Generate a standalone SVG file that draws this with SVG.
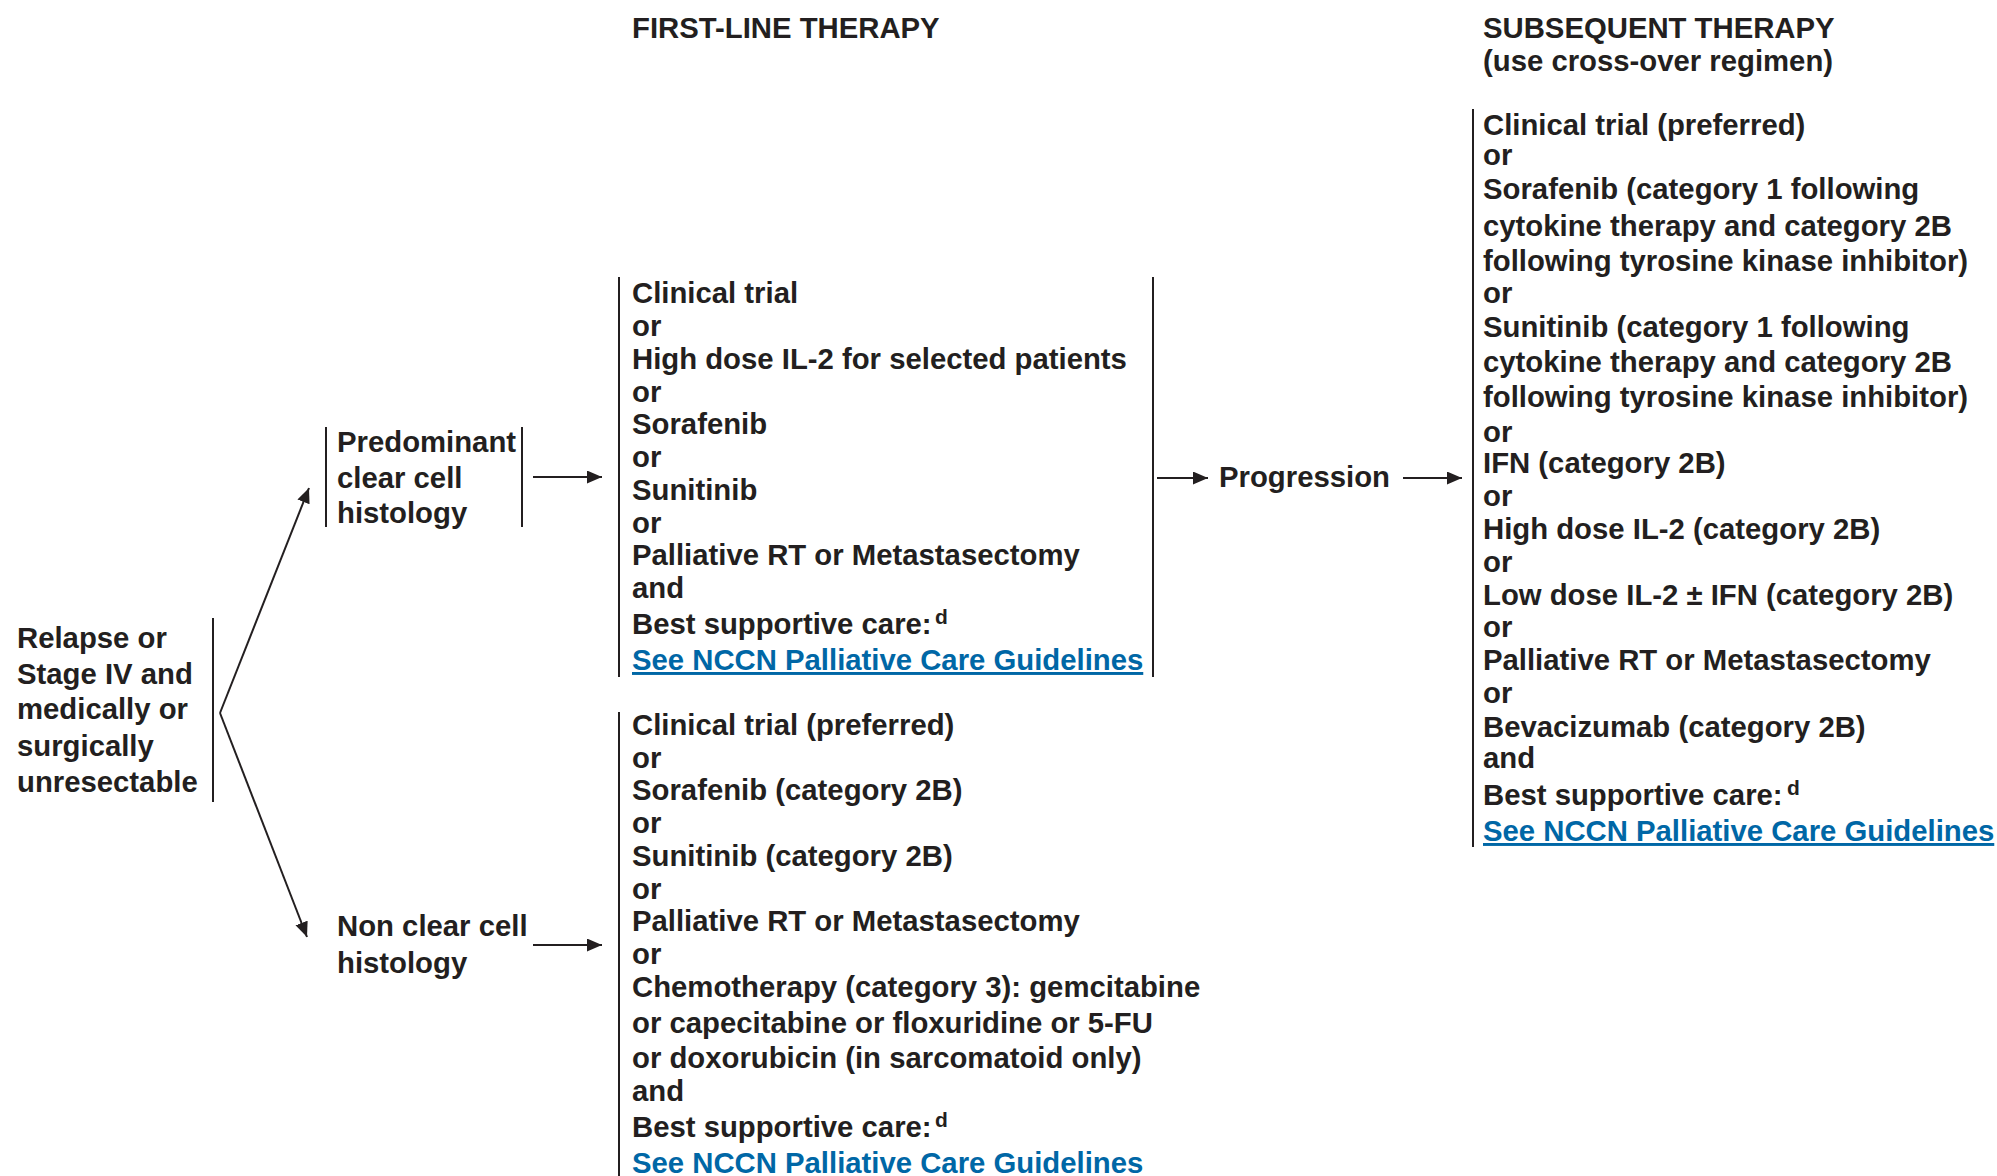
<svg xmlns="http://www.w3.org/2000/svg" width="1997" height="1176" viewBox="0 0 1997 1176">
<style>
.t{font-family:"Liberation Sans",Arial,Helvetica,sans-serif;font-weight:bold;font-size:29.3px;fill:#231f20}
.lk{fill:#0067a6}
.u{text-decoration:underline}
.sup{font-size:21px}
.ln{stroke:#231f20;stroke-width:2;fill:none}
.ar{stroke:#231f20;stroke-width:2;fill:none;marker-end:url(#ah)}
</style>
<defs>
<marker id="ah" markerUnits="userSpaceOnUse" markerWidth="16" markerHeight="14" refX="15" refY="6.5" orient="auto">
<path d="M0,0 L15,6.5 L0,13 Z" fill="#231f20"/>
</marker>
</defs>
<rect width="1997" height="1176" fill="#ffffff"/>

<g id="header-first-line">
<text class="t" x="632" y="38">FIRST-LINE THERAPY</text>
</g>
<g id="header-subsequent">
<text class="t" x="1483" y="38">SUBSEQUENT THERAPY</text>
<text class="t" x="1483" y="71">(use cross-over regimen)</text>
</g>

<g id="node-relapse">
<line class="ln" x1="213" y1="618" x2="213" y2="802"/>
<text class="t">
<tspan x="17" y="648">Relapse or</tspan>
<tspan x="17" y="684">Stage IV and</tspan>
<tspan x="17" y="719">medically or</tspan>
<tspan x="17" y="756">surgically</tspan>
<tspan x="17" y="792">unresectable</tspan>
</text>
</g>

<g id="node-clear-cell">
<line class="ln" x1="326" y1="427" x2="326" y2="527"/>
<line class="ln" x1="522" y1="427" x2="522" y2="527"/>
<text class="t">
<tspan x="337" y="452">Predominant</tspan>
<tspan x="337" y="488">clear cell</tspan>
<tspan x="337" y="523">histology</tspan>
</text>
</g>

<g id="node-non-clear-cell">
<text class="t">
<tspan x="337" y="936">Non clear cell</tspan>
<tspan x="337" y="973">histology</tspan>
</text>
</g>

<g id="node-first-line-clear">
<line class="ln" x1="619" y1="277" x2="619" y2="677"/>
<line class="ln" x1="1153" y1="277" x2="1153" y2="677"/>
<text class="t">
<tspan x="632" y="303">Clinical trial</tspan>
<tspan x="632" y="336">or</tspan>
<tspan x="632" y="369">High dose IL-2 for selected patients</tspan>
<tspan x="632" y="402">or</tspan>
<tspan x="632" y="434">Sorafenib</tspan>
<tspan x="632" y="467">or</tspan>
<tspan x="632" y="500">Sunitinib</tspan>
<tspan x="632" y="533">or</tspan>
<tspan x="632" y="565">Palliative RT or Metastasectomy</tspan>
<tspan x="632" y="598">and</tspan>
<tspan x="632" y="634">Best supportive care:</tspan>
</text>
<text class="t sup" x="935" y="624">d</text>
<text class="t lk u" x="632" y="670">See NCCN Palliative Care Guidelines</text>
</g>

<g id="node-first-line-nonclear">
<line class="ln" x1="619" y1="712" x2="619" y2="1176"/>
<text class="t">
<tspan x="632" y="735">Clinical trial (preferred)</tspan>
<tspan x="632" y="768">or</tspan>
<tspan x="632" y="800">Sorafenib (category 2B)</tspan>
<tspan x="632" y="833">or</tspan>
<tspan x="632" y="866">Sunitinib (category 2B)</tspan>
<tspan x="632" y="899">or</tspan>
<tspan x="632" y="931">Palliative RT or Metastasectomy</tspan>
<tspan x="632" y="964">or</tspan>
<tspan x="632" y="997">Chemotherapy (category 3): gemcitabine</tspan>
<tspan x="632" y="1033">or capecitabine or floxuridine or 5-FU</tspan>
<tspan x="632" y="1068">or doxorubicin (in sarcomatoid only)</tspan>
<tspan x="632" y="1101">and</tspan>
<tspan x="632" y="1137">Best supportive care:</tspan>
</text>
<text class="t sup" x="935" y="1127">d</text>
<text class="t lk" x="632" y="1173">See NCCN Palliative Care Guidelines</text>
</g>

<g id="node-progression">
<text class="t" x="1219" y="487">Progression</text>
</g>

<g id="node-subsequent">
<line class="ln" x1="1473" y1="109" x2="1473" y2="847"/>
<text class="t">
<tspan x="1483" y="135">Clinical trial (preferred)</tspan>
<tspan x="1483" y="165">or</tspan>
<tspan x="1483" y="199">Sorafenib (category 1 following</tspan>
<tspan x="1483" y="236">cytokine therapy and category 2B</tspan>
<tspan x="1483" y="271">following tyrosine kinase inhibitor)</tspan>
<tspan x="1483" y="303">or</tspan>
<tspan x="1483" y="337">Sunitinib (category 1 following</tspan>
<tspan x="1483" y="372">cytokine therapy and category 2B</tspan>
<tspan x="1483" y="407">following tyrosine kinase inhibitor)</tspan>
<tspan x="1483" y="442">or</tspan>
<tspan x="1483" y="473">IFN (category 2B)</tspan>
<tspan x="1483" y="506">or</tspan>
<tspan x="1483" y="539">High dose IL-2 (category 2B)</tspan>
<tspan x="1483" y="572">or</tspan>
<tspan x="1483" y="605">Low dose IL-2 ± IFN (category 2B)</tspan>
<tspan x="1483" y="637">or</tspan>
<tspan x="1483" y="670">Palliative RT or Metastasectomy</tspan>
<tspan x="1483" y="703">or</tspan>
<tspan x="1483" y="737">Bevacizumab (category 2B)</tspan>
<tspan x="1483" y="768">and</tspan>
<tspan x="1483" y="805">Best supportive care:</tspan>
</text>
<text class="t sup" x="1787" y="795">d</text>
<text class="t lk u" x="1483" y="841">See NCCN Palliative Care Guidelines</text>
</g>

<g id="connectors">
<line class="ar" x1="220" y1="713" x2="309" y2="488"/>
<line class="ar" x1="220" y1="713" x2="307" y2="937"/>
<line class="ar" x1="533" y1="477" x2="602" y2="477"/>
<line class="ar" x1="533" y1="945" x2="602" y2="945"/>
<line class="ar" x1="1157" y1="478" x2="1208" y2="478"/>
<line class="ar" x1="1403" y1="478" x2="1462" y2="478"/>
</g>
</svg>
